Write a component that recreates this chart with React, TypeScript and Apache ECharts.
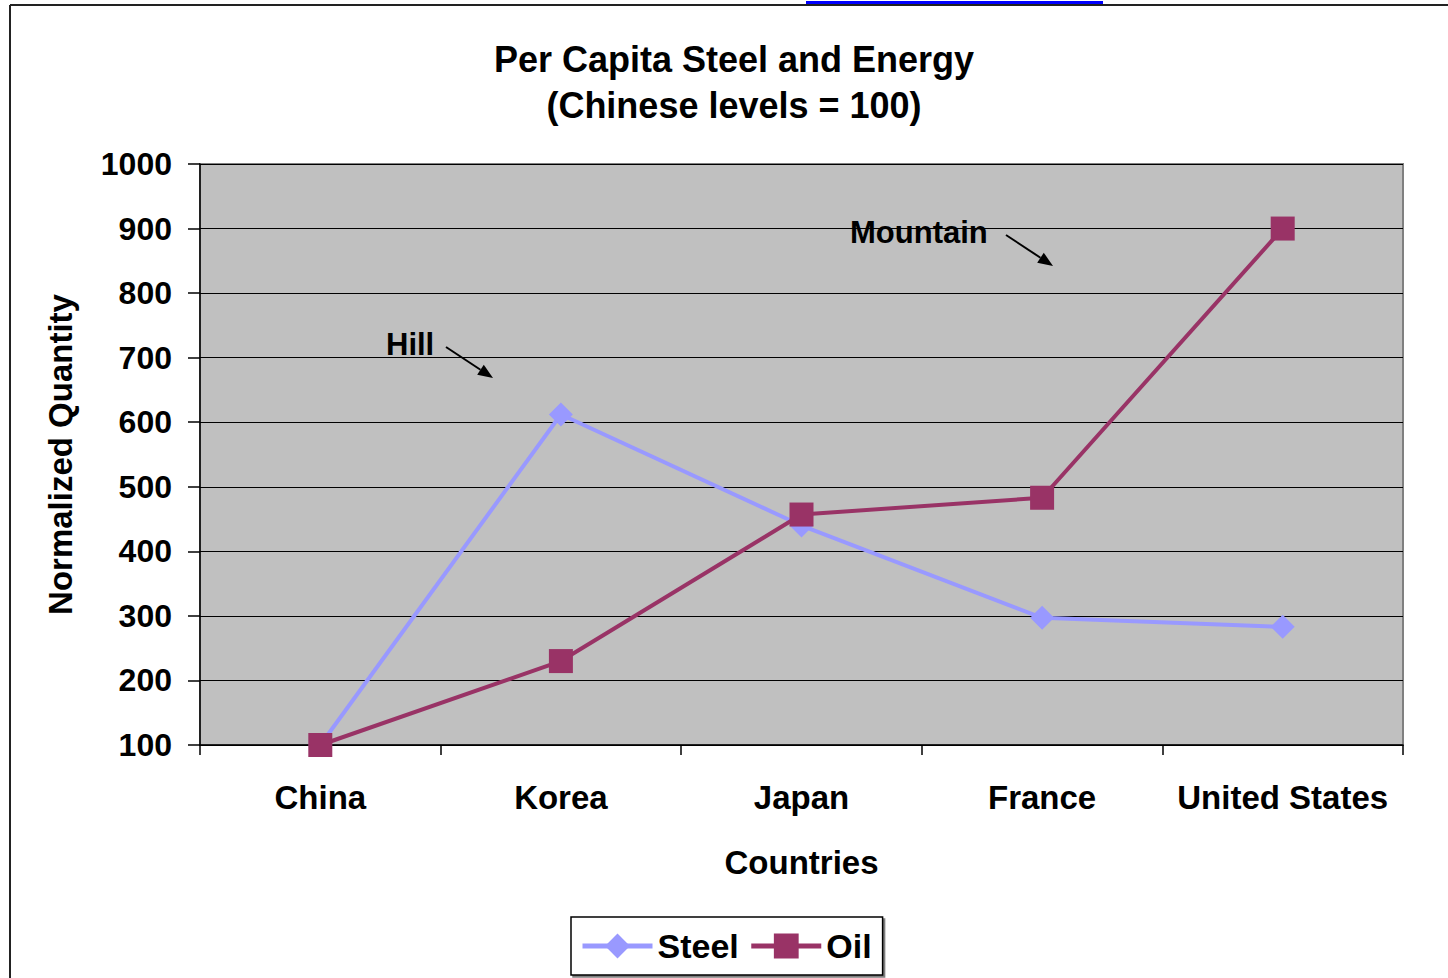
import React, { useEffect, useRef } from "react";
import * as echarts from "echarts";

// Countries along the x axis
const countries = ["China", "Korea", "Japan", "France", "United States"];
// Per-capita consumption, normalized so that China = 100
const steelValues = [100, 612, 440, 297, 283];
const oilValues = [100, 230, 457, 483, 900];
// Value axis range and step
const yMin = 100;
const yMax = 1000;
const yStep = 100;

const FONT = "'Liberation Sans', Arial, sans-serif";
const STEEL_COLOR = "#9999ff";
const OIL_COLOR = "#993366";

// Arrow from (x1,y1) with its tip at (x2,y2)
function arrow(x1: number, y1: number, x2: number, y2: number) {
  const dx = x2 - x1;
  const dy = y2 - y1;
  const len = Math.sqrt(dx * dx + dy * dy);
  const ux = dx / len;
  const uy = dy / len;
  const headLen = 15;
  const headHalf = 6;
  const bx = x2 - ux * headLen;
  const by = y2 - uy * headLen;
  const px = -uy * headHalf;
  const py = ux * headHalf;
  return [
    {
      type: "line",
      shape: { x1, y1, x2: bx, y2: by },
      style: { stroke: "#000", lineWidth: 2 },
      silent: true,
    },
    {
      type: "polygon",
      shape: {
        points: [
          [x2, y2],
          [bx + px, by + py],
          [bx - px, by - py],
        ],
      },
      style: { fill: "#000" },
      silent: true,
    },
  ];
}

export default function App() {
  const ref = useRef<HTMLDivElement>(null);

  useEffect(() => {
    if (!ref.current) return;
    const chart = echarts.init(ref.current, null, { renderer: "svg" });
    chart.setOption({
      animation: false,
      backgroundColor: "#ffffff",
      title: {
        text: "Per Capita Steel and Energy\n(Chinese levels = 100)",
        left: 734,
        top: 36,
        padding: 0,
        textAlign: "center",
        textStyle: {
          fontFamily: FONT,
          fontWeight: "bold",
          fontSize: 36,
          lineHeight: 46,
          color: "#000",
        },
      },
      grid: {
        left: 200,
        right: 45,
        top: 164,
        bottom: 233,
        show: true,
        backgroundColor: "#c0c0c0",
        borderColor: "#808080",
        borderWidth: 2,
      },
      legend: {
        data: ["Steel", "Oil"],
        left: 571,
        top: 917,
        padding: [12, 11, 12, 9],
        itemGap: 10,
        itemWidth: 70,
        itemHeight: 31,
        backgroundColor: "#ffffff",
        borderColor: "#000000",
        borderWidth: 1.5,
        shadowColor: "rgba(0,0,0,0.5)",
        shadowOffsetX: 2,
        shadowOffsetY: 2,
        lineStyle: { width: 5 },
        textStyle: {
          fontFamily: FONT,
          fontWeight: "bold",
          fontSize: 34,
          color: "#000",
        },
      },
      xAxis: {
        type: "category",
        data: countries,
        boundaryGap: true,
        name: "Countries",
        nameLocation: "middle",
        nameGap: 101,
        nameTextStyle: {
          fontFamily: FONT,
          fontWeight: "bold",
          fontSize: 33,
          color: "#000",
        },
        axisLine: { lineStyle: { color: "#000", width: 1.5 } },
        axisTick: { show: true, length: 10, lineStyle: { color: "#000", width: 1.5 } },
        axisLabel: {
          interval: 0,
          margin: 36,
          fontFamily: FONT,
          fontWeight: "bold",
          fontSize: 33,
          color: "#000",
        },
        splitLine: { show: false },
      },
      yAxis: {
        type: "value",
        min: yMin,
        max: yMax,
        interval: yStep,
        name: "Normalized Quantity",
        nameLocation: "middle",
        nameGap: 123,
        nameRotate: 90,
        nameTextStyle: {
          fontFamily: FONT,
          fontWeight: "bold",
          fontSize: 33,
          color: "#000",
        },
        axisLine: { show: true, lineStyle: { color: "#000", width: 1.5 } },
        axisTick: { show: true, length: 12, lineStyle: { color: "#000", width: 1.5 } },
        axisLabel: {
          margin: 28,
          formatter: (v: number) => String(v),
          fontFamily: FONT,
          fontWeight: "bold",
          fontSize: 32,
          color: "#000",
        },
        splitLine: { show: true, lineStyle: { color: "#000", width: 1 } },
      },
      series: [
        {
          name: "Steel",
          type: "line",
          data: steelValues,
          symbol: "diamond",
          symbolSize: 24,
          showAllSymbol: true,
          itemStyle: { color: STEEL_COLOR },
          lineStyle: { color: STEEL_COLOR, width: 4 },
          z: 3,
        },
        {
          name: "Oil",
          type: "line",
          data: oilValues,
          symbol: "rect",
          symbolSize: 24,
          showAllSymbol: true,
          itemStyle: { color: OIL_COLOR },
          lineStyle: { color: OIL_COLOR, width: 4 },
          z: 4,
        },
      ],
      graphic: [
        // page frame
        {
          type: "line",
          shape: { x1: 10, y1: 5, x2: 1448, y2: 5 },
          style: { stroke: "#222", lineWidth: 2 },
          silent: true,
        },
        {
          type: "line",
          shape: { x1: 10, y1: 5, x2: 10, y2: 978 },
          style: { stroke: "#222", lineWidth: 2 },
          silent: true,
        },
        // link underline running along the top edge
        {
          type: "rect",
          shape: { x: 806, y: 1, width: 297, height: 3 },
          style: { fill: "#0000ff" },
          silent: true,
        },
        // annotations
        {
          type: "text",
          x: 386,
          y: 344,
          z: 10,
          style: {
            text: "Hill",
            fill: "#000",
            fontFamily: FONT,
            fontWeight: "bold",
            fontSize: 31,
            textAlign: "left",
            textVerticalAlign: "middle",
          },
          silent: true,
        },
        ...arrow(446, 347, 493, 378),
        {
          type: "text",
          x: 850,
          y: 232,
          z: 10,
          style: {
            text: "Mountain",
            fill: "#000",
            fontFamily: FONT,
            fontWeight: "bold",
            fontSize: 31,
            textAlign: "left",
            textVerticalAlign: "middle",
          },
          silent: true,
        },
        ...arrow(1006, 235, 1053, 266),
      ],
    });
    return () => chart.dispose();
  }, []);

  return (
    <div
      ref={ref}
      style={{ position: "absolute", left: 0, top: 0, width: 1448, height: 978 }}
    />
  );
}
